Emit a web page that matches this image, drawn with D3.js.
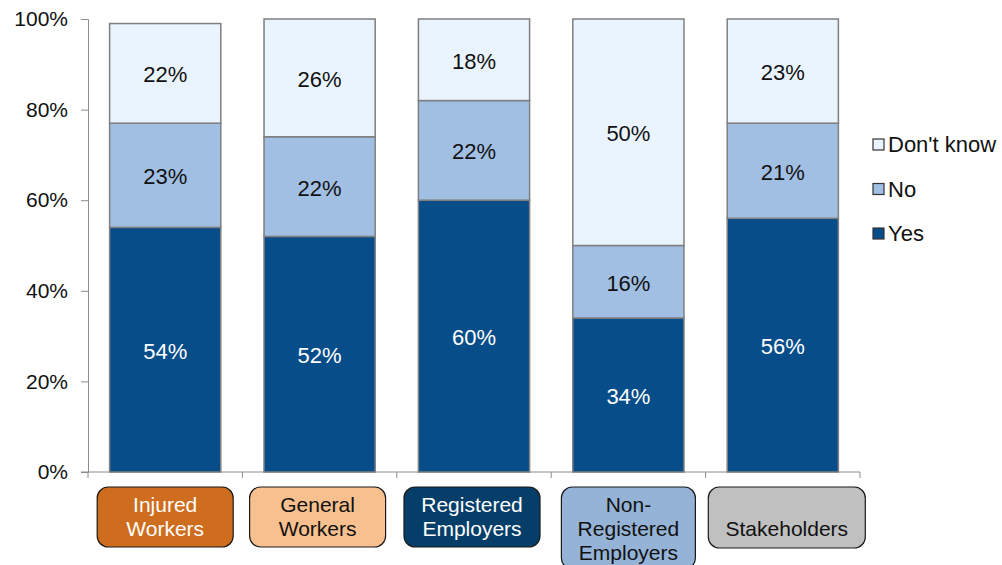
<!DOCTYPE html>
<html>
<head>
<meta charset="utf-8">
<script src="https://cdn.jsdelivr.net/npm/d3@7/dist/d3.min.js"></script>
<style>
  html, body { margin: 0; padding: 0; background: #fff; }
  svg { display: block; font-family: "Liberation Sans", Arial, sans-serif; }
</style>
</head>
<body>
<svg id="chart" width="1002" height="565"></svg>
<script>
// Respondent groups and the share answering each option (%)
const categories = ["Injured Workers", "General Workers", "Registered Employers", "Non-Registered Employers", "Stakeholders"];
const categoryLines = [["Injured", "Workers"], ["General", "Workers"], ["Registered", "Employers"], ["Non-", "Registered", "Employers"], ["Stakeholders"]];
const yesValues = [54, 52, 60, 34, 56];
const noValues = [23, 22, 22, 16, 21];
const dontKnowValues = [22, 26, 18, 50, 23];
const seriesNames = ["Yes", "No", "Don't know"];
const yTicks = [0, 20, 40, 60, 80, 100];

// Styling
const seriesColors = { "Yes": "#074d8a", "No": "#a0bfe3", "Don't know": "#eaf4fe" };
const labelColors = { "Yes": "#ffffff", "No": "#111111", "Don't know": "#111111" };
const boxFill = ["#cf6d1e", "#f8c08f", "#053e69", "#95b3d7", "#c0c0c0"];
const boxText = ["#ffffff", "#111111", "#ffffff", "#111111", "#111111"];
const boxWidth = [136, 136, 136, 134, 157];
const boxHeight = [60, 60, 60, 82, 61];
const boxShift = [0, -2, -2, 0, 4];

const svg = d3.select("#chart");
const margin = { left: 88, right: 142, top: 19, bottom: 93 };
const W = 1002, H = 565;

const x = d3.scaleBand()
  .domain(categories)
  .range([margin.left, W - margin.right])
  .paddingInner(0.28)
  .paddingOuter(0.14);
const bandStep = x.step();

const y = d3.scaleLinear().domain([0, 100]).range([H - margin.bottom, margin.top]);

// Stack the series
const rows = categories.map((c, i) => ({ cat: c, "Yes": yesValues[i], "No": noValues[i], "Don't know": dontKnowValues[i] }));
const stacked = d3.stack().keys(seriesNames)(rows);

// Axes
const yAxis = svg.append("g")
  .attr("transform", `translate(${margin.left},0)`)
  .call(d3.axisLeft(y).tickValues(yTicks).tickFormat(d => d + "%").tickSize(7).tickPadding(13));
yAxis.select(".domain").attr("stroke", "#8c8c8c");
yAxis.selectAll(".tick line").attr("stroke", "#8c8c8c");
yAxis.selectAll(".tick text").attr("fill", "#111").style("font-size", "21px")
  .style("font-family", "'Liberation Sans', Arial, sans-serif");

// Category axis with boundary ticks
const xBase = y(0);
svg.append("line")
  .attr("x1", margin.left - 7).attr("x2", W - margin.right)
  .attr("y1", xBase).attr("y2", xBase)
  .attr("stroke", "#8c8c8c");
const boundaries = d3.range(categories.length + 1).map(i => margin.left + i * bandStep);
svg.selectAll(".xtick").data(boundaries).enter().append("line")
  .attr("x1", d => d).attr("x2", d => d)
  .attr("y1", xBase).attr("y2", xBase + 6)
  .attr("stroke", "#8c8c8c");

// Bars
const layers = svg.selectAll(".layer").data(stacked).enter().append("g")
  .attr("fill", d => seriesColors[d.key]);
layers.selectAll("rect").data(d => d.map(p => ({ key: d.key, p }))).enter().append("rect")
  .attr("x", d => x(d.p.data.cat))
  .attr("width", x.bandwidth())
  .attr("y", d => y(d.p[1]))
  .attr("height", d => y(d.p[0]) - y(d.p[1]))
  .attr("stroke", "#7f7f7f")
  .attr("stroke-width", 1.5);

// Segment value labels
stacked.forEach(layer => {
  svg.selectAll(null).data(layer).enter().append("text")
    .attr("x", d => x(d.data.cat) + x.bandwidth() / 2)
    .attr("y", d => (y(d[0]) + y(d[1])) / 2 + 9)
    .attr("text-anchor", "middle")
    .attr("fill", labelColors[layer.key])
    .style("font-size", "22px")
    .text(d => (d[1] - d[0]) + "%");
});

// Category name boxes
const boxTop = 487;
categories.forEach((c, i) => {
  const cx = x(c) + x.bandwidth() / 2 + boxShift[i];
  const g = svg.append("g");
  g.append("rect")
    .attr("x", cx - boxWidth[i] / 2).attr("y", boxTop)
    .attr("width", boxWidth[i]).attr("height", boxHeight[i])
    .attr("rx", 11).attr("ry", 11)
    .attr("fill", boxFill[i]).attr("stroke", "#1a1a1a").attr("stroke-width", 1.2);
  const lines = categoryLines[i];
  const lh = 24;
  const startY = lines.length === 1 ? boxTop + 49 : boxTop + 25;
  lines.forEach((t, j) => {
    g.append("text")
      .attr("x", cx).attr("y", startY + j * lh)
      .attr("text-anchor", "middle")
      .attr("fill", boxText[i])
      .style("font-size", "21px")
      .text(t);
  });
});

// Legend (top to bottom: Don't know, No, Yes)
const legendItems = seriesNames.slice().reverse();
const legend = svg.append("g").attr("transform", "translate(873,139)");
legendItems.forEach((k, i) => {
  const gy = i * 44.5;
  legend.append("rect")
    .attr("x", 0).attr("y", gy).attr("width", 11).attr("height", 11)
    .attr("fill", seriesColors[k]).attr("stroke", "#333").attr("stroke-width", 1.2);
  legend.append("text")
    .attr("x", 15).attr("y", gy + 13)
    .attr("fill", "#111")
    .style("font-size", "22px")
    .text(k);
});
</script>
</body>
</html>
